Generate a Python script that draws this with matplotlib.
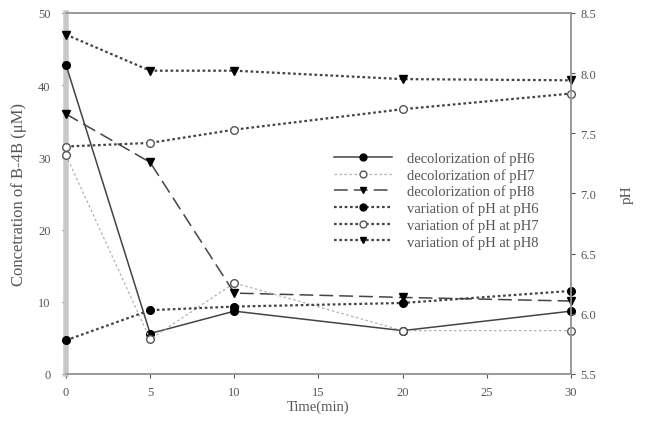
import matplotlib.pyplot as plt

plt.rcParams['font.family'] = ['Liberation Serif', 'DejaVu Serif']

# time points (min)
time = [0, 5, 10, 20, 30]

# concentration of B-4B (uM)
decol_ph6 = [42.8, 5.6, 8.7, 6.0, 8.7]
decol_ph7 = [30.3, 4.8, 12.6, 6.0, 6.0]
decol_ph8 = [36.0, 29.3, 11.2, 10.6, 10.1]

# pH variation
var_ph6 = [5.78, 6.03, 6.06, 6.09, 6.19]
var_ph7 = [7.39, 7.42, 7.53, 7.70, 7.83]
var_ph8 = [8.32, 8.02, 8.02, 7.95, 7.94]

txt = '#555555'
ln = '#444444'
ms = 5.5

fig = plt.figure(figsize=(6.47, 4.35), dpi=100)
ax = fig.add_axes([0.102, 0.138, 0.7805, 0.830])
ax2 = ax.twinx()

# decolorization curves
h1, = ax.plot(time, decol_ph6, color=ln, lw=1.1, ls='-', marker='o', ms=ms,
              mfc='black', mec='black', clip_on=False, zorder=3, label='decolorization of pH6')
h2, = ax.plot(time, decol_ph7, color='#b0b0b0', lw=0.9, ls=(0, (2, 2)), marker='o', ms=ms,
              mfc='white', mec='#555555', clip_on=False, zorder=4, label='decolorization of pH7')
h3, = ax.plot(time, decol_ph8, color=ln, lw=1.1, ls=(0, (9, 4)), marker='v', ms=ms,
              mfc='black', mec='black', clip_on=False, zorder=3, label='decolorization of pH8')

# pH variation curves
h4, = ax2.plot(time, var_ph6, color=ln, lw=1.6, ls=(0, (1.2, 1.2)), marker='o', ms=ms,
               mfc='black', mec='black', clip_on=False, label='variation of pH at pH6')
h5, = ax2.plot(time, var_ph7, color=ln, lw=1.6, ls=(0, (1.2, 1.2)), marker='o', ms=ms,
               mfc='white', mec='#555555', clip_on=False, label='variation of pH at pH7')
h6, = ax2.plot(time, var_ph8, color=ln, lw=1.6, ls=(0, (1.2, 1.2)), marker='v', ms=ms,
               mfc='black', mec='black', clip_on=False, label='variation of pH at pH8')

ax.set_xlim(0, 30)
ax.set_ylim(0, 50)
ax2.set_ylim(5.5, 8.5)
ax.set_xticks([0, 5, 10, 15, 20, 25, 30])
ax.set_yticks([0, 10, 20, 30, 40, 50])
ax2.set_yticks([5.5, 6.0, 6.5, 7.0, 7.5, 8.0, 8.5])
ax2.set_yticklabels(['5.5', '6.0', '6.5', '7.0', '7.5', '8.0', '8.5'])

for a in (ax, ax2):
    for s in a.spines.values():
        s.set_color('#999999')
        s.set_linewidth(1.2)
    a.tick_params(colors=txt, labelsize=9, length=3, width=0.8, direction='out')
ax.spines['left'].set_color('#c8c8c8')
ax.spines['left'].set_linewidth(4)
ax2.spines['left'].set_visible(False)
ax.tick_params(axis='x', pad=6)
ax.tick_params(axis='y', pad=8)

ax.set_xlabel('Time(min)', color=txt, fontsize=10.5, labelpad=1)
ax.set_ylabel('Concetration of B-4B (\u03bcM)', color=txt, fontsize=12, labelpad=8)
ax2.set_ylabel('pH', color=txt, fontsize=11, labelpad=18)

leg = ax2.legend(handles=[h1, h2, h3, h4, h5, h6], loc='upper left',
                 bbox_to_anchor=(0.51, 0.645), frameon=False, fontsize=10.5,
                 handlelength=4.0, labelspacing=0.2, handletextpad=1.0,
                 borderpad=0.2, markerscale=0.9)
for t in leg.get_texts():
    t.set_color(txt)

fig.savefig('out.png', dpi=100)
